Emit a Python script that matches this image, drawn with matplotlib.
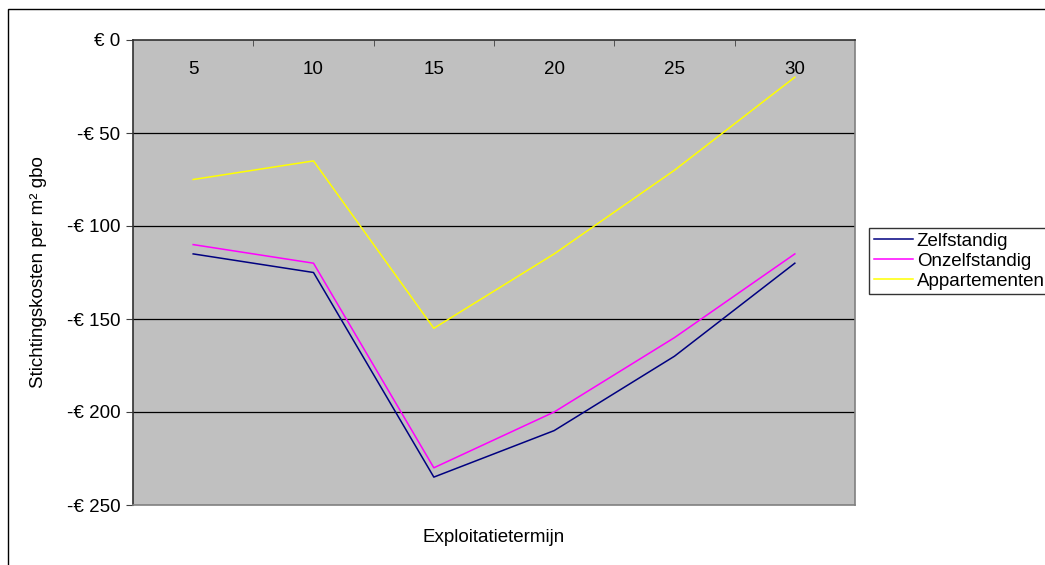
import matplotlib
matplotlib.use("Agg")
import matplotlib.pyplot as plt
from matplotlib.patches import Rectangle
from matplotlib.ticker import FuncFormatter

plt.rcParams['font.family'] = ['Liberation Sans', 'DejaVu Sans']

# ============================== DATA =================================
termijnen = ["5", "10", "15", "20", "25", "30"]
zelfstandig = [-115, -125, -235, -210, -170, -120]
onzelfstandig = [-110, -120, -230, -200, -160, -115]
appartementen = [-75, -65, -155, -115, -70, -20]
y_ticks = [0, -50, -100, -150, -200, -250]

FS = 13.5


def euro(v, pos):
    if v == 0:
        return "€ 0"
    return "-€ %d" % abs(v)


fig = plt.figure(figsize=(10.45, 5.65), dpi=100)
ax = fig.add_axes([133 / 1045, 1 - 505 / 565, 722 / 1045, 465 / 565])
ax.set_facecolor("#C0C0C0")

x = list(range(len(termijnen)))
ax.plot(x, zelfstandig, color="#000080", lw=1.1, label="Zelfstandig", zorder=3)
ax.plot(x, onzelfstandig, color="#FF00FF", lw=1.1, label="Onzelfstandig", zorder=3)
ax.plot(x, appartementen, color="#FFFF00", lw=1.1, label="Appartementen", zorder=3)

ax.set_xlim(-0.5, len(termijnen) - 0.5)
ax.set_ylim(-250, 0)

# grid lines
for v in y_ticks[1:-1]:
    ax.axhline(v, color="black", lw=0.9, zorder=1)

# x axis on top, labels inside the plot
ax.xaxis.tick_top()
ax.set_xticks(x)
ax.set_xticklabels(termijnen, fontsize=FS)
ax.set_xticks([i + 0.5 for i in x[:-1]], minor=True)
ax.tick_params(axis="x", which="major", length=0, pad=-27)
ax.tick_params(axis="x", which="minor", direction="in", length=4, color="#404040")

ax.set_yticks(y_ticks)
ax.yaxis.set_major_formatter(FuncFormatter(euro))
ax.tick_params(axis="y", direction="out", length=5, labelsize=FS, pad=4, color="#404040")

for side in ["left", "top"]:
    ax.spines[side].set_color("#303030")
    ax.spines[side].set_linewidth(1.2)
for side in ["right", "bottom"]:
    ax.spines[side].set_color("#808080")
    ax.spines[side].set_linewidth(1.2)

ax.set_ylabel("Stichtingskosten per m² gbo", fontsize=FS, labelpad=14)
fig.text(494 / 1045, 1 - 537 / 565, "Exploitatietermijn", fontsize=FS, ha="center", va="center")

leg = fig.legend(loc="upper left", bbox_to_anchor=(869 / 1045, 1 - 228 / 565),
                 frameon=True, fancybox=False, fontsize=FS, handlelength=2.1,
                 handletextpad=0.2, borderpad=0.25, labelspacing=0.15, borderaxespad=0)
leg.get_frame().set_edgecolor("black")
leg.get_frame().set_linewidth(1.0)

# outer chart border
fig.patches.append(Rectangle((7.5 / 1045, -0.1), 1.2, 1 - 8.5 / 565 + 0.1,
                             transform=fig.transFigure, fill=False,
                             edgecolor="black", lw=1.0))

fig.savefig("out.png", dpi=100)
